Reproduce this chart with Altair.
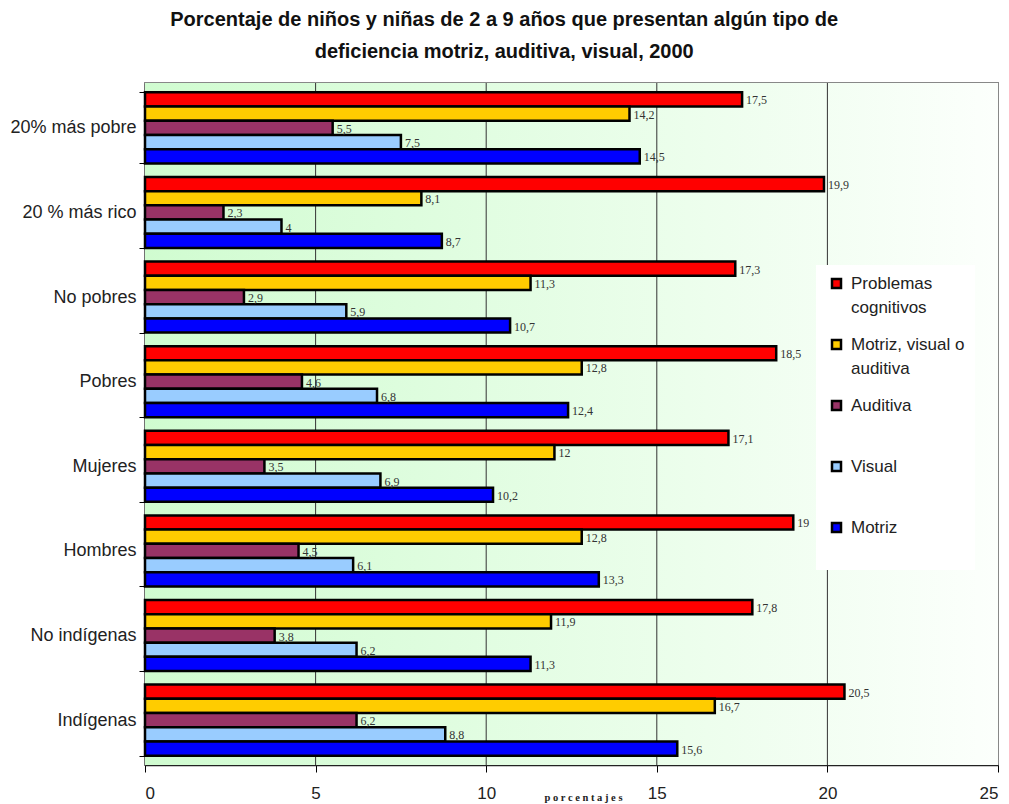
import altair as alt
import pandas as pd

categorias = ["20% más pobre", "20 % más rico", "No pobres", "Pobres",
              "Mujeres", "Hombres", "No indígenas", "Indígenas"]
series = ["Problemas|cognitivos", "Motriz, visual o|auditiva", "Auditiva| ", "Visual| ", "Motriz| "]
colores = ["#ff0000", "#ffcc00", "#993366", "#99ccff", "#0000ff"]

problemas_cognitivos = [17.5, 19.9, 17.3, 18.5, 17.1, 19.0, 17.8, 20.5]
motriz_visual_auditiva = [14.2, 8.1, 11.3, 12.8, 12.0, 12.8, 11.9, 16.7]
auditiva = [5.5, 2.3, 2.9, 4.6, 3.5, 4.5, 3.8, 6.2]
visual = [7.5, 4.0, 5.9, 6.8, 6.9, 6.1, 6.2, 8.8]
motriz = [14.5, 8.7, 10.7, 12.4, 10.2, 13.3, 11.3, 15.6]

x_ticks = [0, 5, 10, 15, 20, 25]
grid_vals = [5, 10, 15, 20]

rows = []
for s, vals in zip(series, [problemas_cognitivos, motriz_visual_auditiva, auditiva, visual, motriz]):
    for c, v in zip(categorias, vals):
        rows.append({"cat": c, "serie": s, "valor": v})
df = pd.DataFrame(rows)

W, H = 853, 682

y_enc = alt.Y("cat:N", sort=categorias, title=None,
              scale=alt.Scale(paddingInner=0.16, paddingOuter=0.11),
              axis=alt.Axis(tickBand="extent", labelFont="Liberation Sans", labelFontSize=18,
                            labelColor="#222222", domainColor="#333333", domainWidth=1.5,
                            tickColor="#000000", tickSize=6, labelPadding=3, grid=False))
yoff = alt.YOffset("serie:N", sort=series, scale=alt.Scale(domain=series, paddingInner=0, paddingOuter=0))
x_scale = alt.Scale(domain=[0, 25], nice=False)

fondo = alt.Chart(pd.DataFrame({"a": [0], "b": [25]})).mark_rect(
    color=alt.Gradient(gradient="linear", x1=0, x2=1, y1=0, y2=0,
                       stops=[alt.GradientStop(color="#d0fcd0", offset=0),
                              alt.GradientStop(color="#fcfffc", offset=1)])
).encode(x=alt.X("a:Q", scale=x_scale), x2="b:Q", y=alt.value(0), y2=alt.value(H))

grid = alt.Chart(pd.DataFrame({"g": grid_vals})).mark_rule(color="#333333", strokeWidth=1).encode(
    x=alt.X("g:Q", scale=x_scale))

bars = alt.Chart(df).mark_bar(stroke="#000000", strokeWidth=2.5).encode(
    y=y_enc, yOffset=yoff,
    x=alt.X("valor:Q", scale=x_scale,
            axis=alt.Axis(values=x_ticks, title="p o r c e n t a j e s", grid=False,
                          labelFont="Liberation Sans", labelFontSize=17, labelColor="#222222",
                          domainColor="#222222", domainWidth=1.5, tickColor="#000000", tickSize=7,
                          labelPadding=13,
                          titleFont="Liberation Serif", titleFontSize=10.5, titleFontWeight="bold",
                          titleColor="#222222", titleX=438, titleY=27)),
    color=alt.Color("serie:N", sort=series, scale=alt.Scale(domain=series, range=colores),
                    legend=alt.Legend(title=None, orient="none", legendX=671, legendY=182,
                                      fillColor="#ffffff", padding=10, symbolOffset=2,
                                      symbolType="square",
                                      symbolSize=81, symbolStrokeColor="#000000", symbolStrokeWidth=2.5,
                                      labelFont="Liberation Sans", labelFontSize=17, labelColor="#222222",
                                      labelExpr="split(datum.label, '|')", labelBaseline="middle",
                                      labelOffset=6, rowPadding=19, labelLimit=200))
)

labels = alt.Chart(df).transform_calculate(
    txt="replace(toString(datum.valor), '.', ',')"
).mark_text(align="left", baseline="middle", dx=4, dy=1, font="Liberation Serif",
            fontSize=12, color="#333333").encode(
    y=y_enc, yOffset=yoff, x=alt.X("valor:Q", scale=x_scale), text="txt:N")

chart = alt.layer(fondo, grid, bars, labels).properties(
    width=W, height=H,
    padding={"left": 9, "top": 9, "right": 0, "bottom": 5},
    title=alt.TitleParams(
        ["Porcentaje de niños y niñas de 2 a 9 años que presentan algún tipo de",
         "deficiencia motriz, auditiva, visual, 2000"],
        font="Liberation Sans", fontSize=20, fontWeight="bold", color="#111111",
        anchor="middle", frame="bounds", lineHeight=32, offset=12.5)
).configure(style={"guide-label": {"lineHeight": 24}}).configure_view(stroke="#888888", strokeWidth=2)

chart.save("out.html", embed_options={"renderer": "svg", "actions": False})
